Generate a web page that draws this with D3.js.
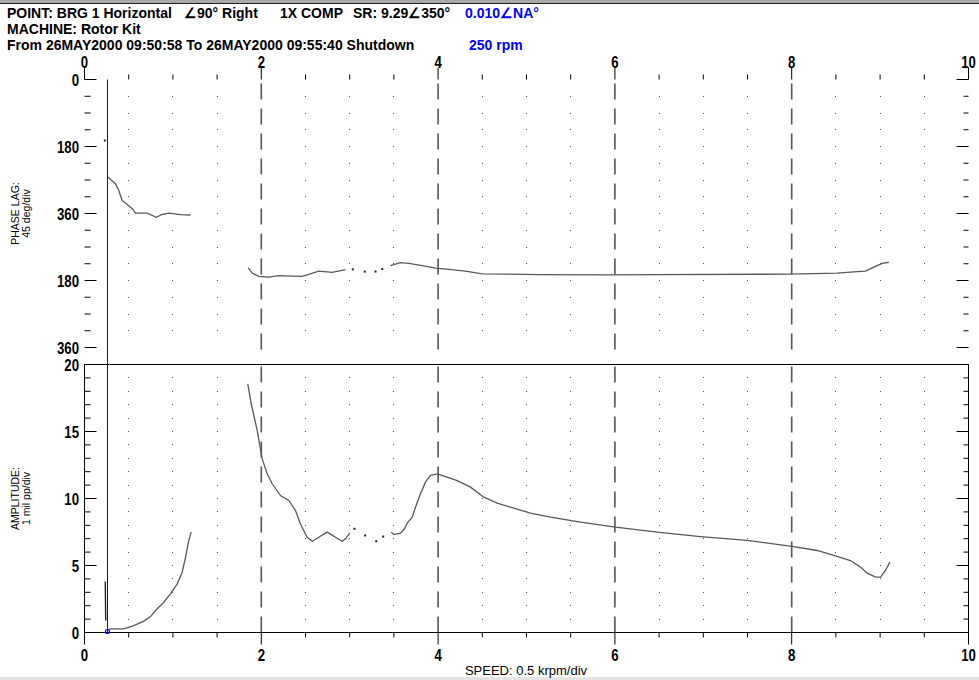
<!DOCTYPE html>
<html><head><meta charset="utf-8">
<script src="https://cdn.jsdelivr.net/npm/d3@7"></script>
<style>body{margin:0;background:#fff;overflow:hidden}</style>
</head><body>
<svg id="c" width="979" height="680" xmlns="http://www.w3.org/2000/svg"></svg>
<script>
// ---------- data ----------
const speedMajorTicks = [0, 2, 4, 6, 8, 10];
const speedMinorStep = 0.5;
const phaseTicks = [0, 180, 360, 540, 720];
const phaseTickLabels = ["0", "180", "360", "180", "360"];
const phaseMinorStep = 45;
const ampTicks = [0, 5, 10, 15, 20];
const ampMinorStep = 1;
const cursorSpeed = 0.25;

// phase lag (deg, plotted 0..720) vs speed (krpm)
const phaseDotStart = [[0.23, 164]];
const phaseSeg1 = [[0.268,262],[0.313,273],[0.35,280],[0.388,298],[0.426,325],[0.483,336],[0.54,347],[0.577,359],[0.709,359],[0.814,370],[0.871,363],[0.954,359],[1.086,363],[1.2,364]];
const phaseSeg2a = [[1.852,506],[1.897,520],[1.972,529],[2.085,531],[2.198,527],[2.349,528],[2.462,529],[2.519,525],[2.650,515],[2.802,518],[2.952,511]];
const phaseDots = [[3.035,510],[3.171,516],[3.292,516],[3.368,509]];
const phaseSeg2b = [[3.462,500],[3.575,492],[3.668,494],[3.820,500],[3.971,507],[4.121,510],[4.310,515],[4.499,522],[5.158,524],[5.837,525],[6.497,524],[7.949,523],[8.515,520],[8.703,517],[8.835,515],[8.929,504],[9.024,494],[9.099,491]];

// amplitude (mil pp) vs speed (krpm)
const ampSpike = [[0.235,3.8],[0.24,0.9]];
const ampSeg1 = [[0.268,0.2],[0.294,0.27],[0.445,0.27],[0.558,0.52],[0.671,0.85],[0.747,1.19],[0.822,1.77],[0.897,2.26],[0.973,2.88],[1.049,3.63],[1.105,4.5],[1.143,5.62],[1.18,6.87],[1.207,7.49]];
const ampSeg2a = [[1.847,18.56],[1.886,17.07],[1.954,15.07],[2.010,12.96],[2.067,11.84],[2.123,11.1],[2.217,10.22],[2.311,9.85],[2.387,9.1],[2.443,8.1],[2.519,7.11],[2.576,6.81],[2.650,7.11],[2.745,7.49],[2.839,7.11],[2.915,6.81],[2.952,6.99],[3.001,7.41]];
const ampDots = [[3.054,7.74],[3.175,7.24],[3.300,6.81],[3.379,7.16]];
const ampSeg2b = [[3.469,7.49],[3.499,7.31],[3.575,7.41],[3.620,7.74],[3.650,8.16],[3.707,8.61],[3.744,9.35],[3.801,10.35],[3.857,11.22],[3.914,11.72],[3.990,11.84],[4.084,11.64],[4.216,11.34],[4.367,10.85],[4.517,10.1],[4.669,9.65],[4.819,9.35],[5.045,8.9],[5.271,8.61],[5.611,8.23],[6.007,7.86],[6.478,7.49],[6.968,7.16],[7.497,6.87],[8.006,6.42],[8.288,6.12],[8.476,5.75],[8.665,5.37],[8.778,4.88],[8.854,4.43],[8.948,4.13],[9.005,4.13],[9.061,4.63],[9.110,5.25]];

// ---------- drawing ----------
const svg = d3.select("#c");
const W = 979, H = 680;
const x = d3.scaleLinear([0, 10], [84.5, 968.5]);
const yP = d3.scaleLinear([0, 720], [79.5, 347.5]);
const yA = d3.scaleLinear([0, 20], [632.5, 364.5]);

const numFont = "'Liberation Sans', Arial, sans-serif";
const ink = "#000";
const curveCol = "#585858";

// window strips
svg.append("rect").attr("x",0).attr("y",0).attr("width",W).attr("height",3).attr("fill","#a8a8a8");
svg.append("line").attr("x1",0).attr("x2",W).attr("y1",3.5).attr("y2",3.5).attr("stroke","#222");
svg.append("rect").attr("x",0).attr("y",677).attr("width",W).attr("height",3).attr("fill","#e4e4e4");

// header
const hdr = svg.append("g").attr("font-family", numFont).attr("font-size", 14).attr("font-weight", "bold");
function htext(t, xx, yy, col) { return hdr.append("text").attr("x", xx).attr("y", yy).attr("fill", col || ink).text(t); }
htext("POINT: BRG 1 Horizontal", 7, 18);
htext("\u222090\u00B0 Right", 184, 18);
htext("1X COMP", 280, 18);
htext("SR: 9.29\u2220350\u00B0", 353, 18);
htext("0.010\u2220NA\u00B0", 465, 18, "#0000ff");
htext("MACHINE: Rotor Kit", 7, 34);
htext("From 26MAY2000 09:50:58 To 26MAY2000 09:55:40 Shutdown", 7, 50);
htext("250 rpm", 469, 50, "#0000ff");

const minorX = d3.range(0, 10 + 1e-9, speedMinorStep).filter(v => Math.abs(v / 2 - Math.round(v / 2)) > 1e-6);
const gridX = minorX.filter(v => v > 0 && v < 10);

function panel(y, yMin, yMax, step, majors, labels, majorLenLeft, minorLen) {
  const g = svg.append("g");
  const top = y(yMax), bot = y(yMin);
  const yMinor = d3.range(yMin, yMax + 1e-9, step);
  // dotted grid (dots at intersections)
  gridX.forEach(sx => yMinor.filter(v => v > yMin && v < yMax).forEach(v => {
    g.append("rect").attr("x", Math.floor(x(sx))).attr("y", Math.floor(y(v))).attr("width", 1).attr("height", 1).attr("fill", "#555");
  }));
  // dashed lines at major speeds
  g.selectAll("line.dash").data(speedMajorTicks.filter(v => v > 0 && v < 10)).join("line")
    .attr("x1", d => x(d)).attr("x2", d => x(d)).attr("y1", top + 2).attr("y2", bot)
    .attr("stroke", "#555").attr("stroke-width", 1.6).attr("stroke-dasharray", "16,9");
  // frame
  g.append("rect").attr("x", x(0)).attr("y", top).attr("width", x(10) - x(0)).attr("height", bot - top)
    .attr("fill", "none").attr("stroke", ink).attr("stroke-width", 1);
  // y ticks left & right
  const isMajor = v => majors.some(m => Math.abs(m - v) < 1e-6);
  yMinor.forEach(v => {
    const len = isMajor(v) ? majorLenLeft : minorLen;
    g.append("line").attr("x1", x(0)).attr("x2", x(0) + len).attr("y1", y(v)).attr("y2", y(v)).attr("stroke", ink);
    const rlen = isMajor(v) ? 12 : 5;
    g.append("line").attr("x1", x(10)).attr("x2", x(10) - rlen).attr("y1", y(v)).attr("y2", y(v)).attr("stroke", ink);
  });
  // y labels
  g.selectAll("text.yl").data(majors).join("text")
    .attr("transform", d => `translate(79,${y(d) + 6}) scale(0.8,1)`)
    .attr("text-anchor", "end").attr("font-family", numFont).attr("font-weight", "bold").attr("font-size", 16.5)
    .attr("fill", ink).text((d, i) => labels[i]);
  return g;
}

panel(yP, 0, 720, phaseMinorStep, phaseTicks, phaseTickLabels, 12, 6);
panel(yA, 0, 20, ampMinorStep, ampTicks, ampTicks.map(String), 12, 6);

// speed axes (top ticks up, bottom ticks down)
const ax = svg.append("g");
d3.range(0, 10 + 1e-9, speedMinorStep).forEach(v => {
  const maj = speedMajorTicks.includes(v);
  ax.append("line").attr("x1", x(v)).attr("x2", x(v)).attr("y1", yP(0)).attr("y2", yP(0) - (maj ? 12 : 5)).attr("stroke", ink);
  ax.append("line").attr("x1", x(v)).attr("x2", x(v)).attr("y1", yA(0)).attr("y2", yA(0) + (maj ? 12 : 5)).attr("stroke", ink);
});
ax.selectAll("text.tt").data(speedMajorTicks).join("text")
  .attr("transform", d => `translate(${x(d)},68) scale(0.82,1)`)
  .attr("text-anchor", "middle").attr("font-family", numFont).attr("font-weight", "bold").attr("font-size", 16).text(d => d);
ax.selectAll("text.bt").data(speedMajorTicks).join("text")
  .attr("transform", d => `translate(${x(d)},661) scale(0.8,1)`)
  .attr("text-anchor", "middle").attr("font-family", numFont).attr("font-weight", "bold").attr("font-size", 16.5).text(d => d);

// axis titles
svg.append("text").attr("x", 526).attr("y", 675).attr("text-anchor", "middle")
  .attr("font-family", numFont).attr("font-size", 13).attr("fill", ink).text("SPEED: 0.5 krpm/div");
function ytitle(t1, t2, cy) {
  svg.append("text").attr("transform", `translate(19,${cy}) rotate(-90)`).attr("text-anchor", "middle")
    .attr("font-family", numFont).attr("font-size", 10.5).text(t1);
  svg.append("text").attr("transform", `translate(30,${cy}) rotate(-90)`).attr("text-anchor", "middle")
    .attr("font-family", numFont).attr("font-size", 10.5).text(t2);
}
ytitle("PHASE LAG:", "45 deg/div", (yP(0) + yP(720)) / 2);
ytitle("AMPLITUDE:", "1 mil pp/div", (yA(0) + yA(20)) / 2);

// curves
const lineP = d3.line().x(d => x(d[0])).y(d => yP(d[1]));
const lineA = d3.line().x(d => x(d[0])).y(d => yA(d[1]));
[phaseSeg1, phaseSeg2a, phaseSeg2b].forEach(seg => svg.append("path").attr("d", lineP(seg))
  .attr("fill", "none").attr("stroke", curveCol).attr("stroke-width", 1.3));
[ampSeg1, ampSeg2a, ampSeg2b].forEach(seg => svg.append("path").attr("d", lineA(seg))
  .attr("fill", "none").attr("stroke", curveCol).attr("stroke-width", 1.3));
svg.append("path").attr("d", lineA(ampSpike)).attr("fill", "none").attr("stroke", "#222").attr("stroke-width", 1.4);
phaseDots.concat(phaseDotStart).forEach(d => svg.append("rect").attr("x", x(d[0]) - 1).attr("y", yP(d[1]) - 1).attr("width", 2).attr("height", 2).attr("fill", "#222"));
ampDots.forEach(d => svg.append("rect").attr("x", x(d[0]) - 1).attr("y", yA(d[1]) - 1).attr("width", 2).attr("height", 2).attr("fill", "#222"));

// cursor
svg.append("line").attr("x1", Math.round(x(cursorSpeed)) + 0.5).attr("x2", Math.round(x(cursorSpeed)) + 0.5)
  .attr("y1", yP(0)).attr("y2", yA(0)).attr("stroke", "#0000ff").attr("stroke-width", 1);
svg.append("circle").attr("cx", Math.round(x(cursorSpeed)) + 0.5).attr("cy", yA(0) - 1).attr("r", 2)
  .attr("fill", "none").attr("stroke", "#0000ff").attr("stroke-width", 1.2);
</script>
</body></html>
